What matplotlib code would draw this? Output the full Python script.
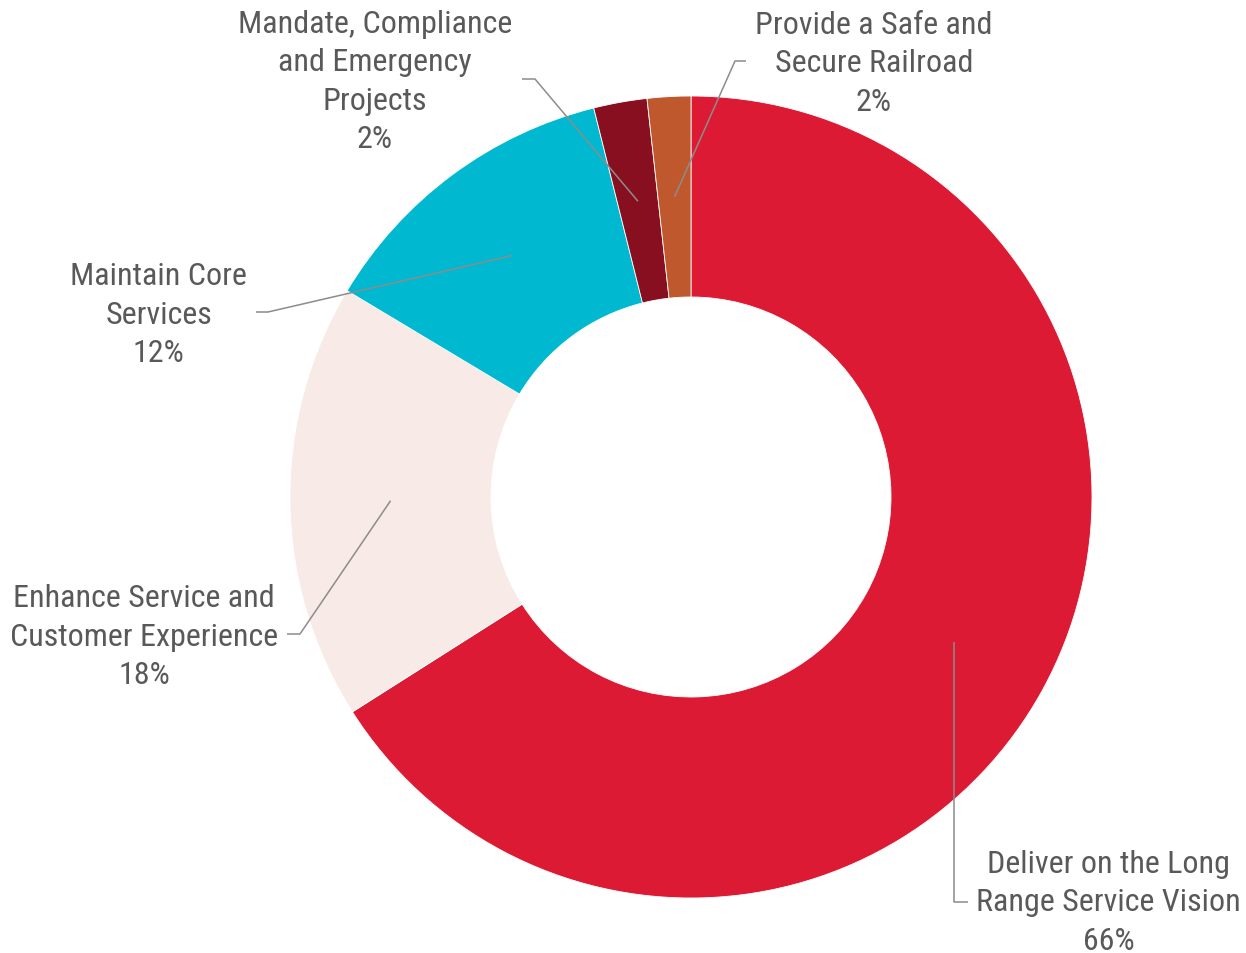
import matplotlib
matplotlib.use("Agg")
import numpy as np
import matplotlib.pyplot as plt
from matplotlib import font_manager

# data (clockwise from 12 o'clock)
categories = [
    "Deliver on the Long\nRange Service Vision",
    "Enhance Service and\nCustomer Experience",
    "Maintain Core\nServices",
    "Mandate, Compliance\nand Emergency\nProjects",
    "Provide a Safe and\nSecure Railroad",
]
values = [66.0, 17.6, 12.5, 2.15, 1.75]
colors = ["#DC1A33", "#F8EAE6", "#00B8D0", "#870F1F", "#C0582E"]

# pick a condensed font if one is around
names = {f.name for f in font_manager.fontManager.ttflist}
font = "Roboto"
for cand in ["Roboto Condensed", "Liberation Sans Narrow", "Roboto"]:
    if cand in names:
        font = cand
        break

W, H = 1246, 954
fig = plt.figure(figsize=(W / 100, H / 100), dpi=100)
ax = fig.add_axes([0, 0, 1, 1])

cx, cy = 691, H - 498
R, width = 401, 201
wedges, _ = ax.pie(values, colors=colors, startangle=90, counterclock=False,
                   radius=R, center=(cx, cy),
                   wedgeprops=dict(width=width, edgecolor="white", linewidth=0.6))
ax.set_xlim(0, W)
ax.set_ylim(0, H)
ax.set_aspect("equal")
ax.axis("off")

# label layout: elbow x (None = straight down), elbow y, end x, text x, text y, alignment
layout = [
    (None, 903, 968, 976, 903, "left"),
    (300, 635, 287, 278, 637, "right"),
    (268, 313, 256, 247, 315, "right"),
    (535, 80, 522, 512, 82, "right"),
    (735, 62, 746, 755, 64, "left"),
]

total = sum(values)
line_c = "#8C8C8C"
text_c = "#595959"
r_mid = R - width / 2
for w, cat, v, (ex, ey, endx, tx, ty, ha) in zip(wedges, categories, values, layout):
    t = np.deg2rad((w.theta1 + w.theta2) / 2)
    ax_, ay_ = cx + r_mid * np.cos(t), cy + r_mid * np.sin(t)
    if ex is None:
        ex = ax_
    ax.plot([ax_, ex, endx], [ay_, H - ey, H - ey], color=line_c, lw=1.1,
            solid_capstyle="butt", zorder=3)
    pct = round(v / total * 100)
    ax.text(tx, H - ty, f"{cat}\n{pct}%", ha=ha, va="center", multialignment="center",
            fontsize=23, family=font, color=text_c, linespacing=1.41)

fig.savefig("out.png", dpi=100)
